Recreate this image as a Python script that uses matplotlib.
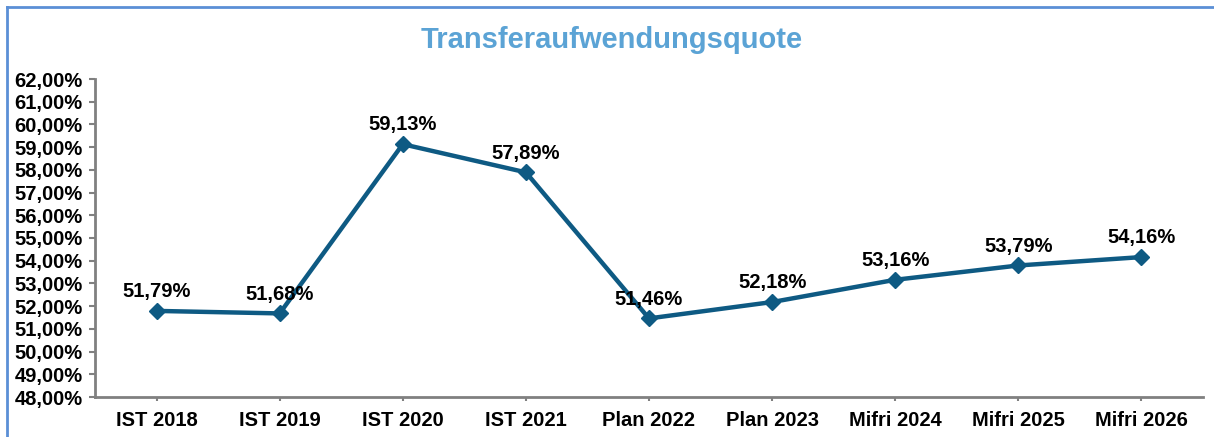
import matplotlib
matplotlib.use("Agg")
import matplotlib.pyplot as plt
from matplotlib.lines import Line2D
from matplotlib.ticker import FuncFormatter, MultipleLocator

categories = ["IST 2018", "IST 2019", "IST 2020", "IST 2021", "Plan 2022",
              "Plan 2023", "Mifri 2024", "Mifri 2025", "Mifri 2026"]
quote = [51.79, 51.68, 59.13, 57.89, 51.46, 52.18, 53.16, 53.79, 54.16]

plt.rcParams['font.family'] = ['Liberation Sans', 'DejaVu Sans']

fig = plt.figure(figsize=(12.14, 4.37), dpi=100)
ax = fig.add_axes([95 / 1214, 40 / 437, (1203 - 95) / 1214, (397 - 79) / 437])

x = list(range(len(categories)))
ax.plot(x, quote, color='#0E5A83', linewidth=3.2, marker='D', markersize=8.5,
        solid_joinstyle='round')

for xi, v in zip(x, quote):
    txt = f"{v:.2f}%".replace('.', ',')
    ax.annotate(txt, (xi, v), xytext=(0, 7), textcoords='offset points',
                ha='center', va='bottom', fontsize=14.5, fontweight='bold')

ax.set_xlim(-0.5, len(categories) - 0.5)
ax.set_ylim(48, 62)
ax.yaxis.set_major_locator(MultipleLocator(1))
ax.yaxis.set_major_formatter(FuncFormatter(lambda v, p: f"{v:.2f}%".replace('.', ',')))
ax.set_xticks(x)
ax.set_xticklabels(categories)

for lab in ax.get_xticklabels() + ax.get_yticklabels():
    lab.set_fontweight('bold')
    lab.set_fontsize(14.5)

ax.spines['top'].set_visible(False)
ax.spines['right'].set_visible(False)
for s in ['left', 'bottom']:
    ax.spines[s].set_color('#808080')
    ax.spines[s].set_linewidth(2)
ax.tick_params(axis='y', length=4, width=1.5, color='#808080', pad=5)
ax.tick_params(axis='x', length=3, width=1.5, color='#808080', pad=7)

fig.text(612 / 1214, 1 - 40 / 437, "Transferaufwendungsquote", ha='center', va='center',
         fontsize=21, fontweight='bold', color='#5BA3D5')

# blauer Rahmen (links und oben)
fig.add_artist(Line2D([7 / 1214, 7 / 1214], [0, 1 - 7 / 437], transform=fig.transFigure,
                      color='#5B8FD6', linewidth=2))
fig.add_artist(Line2D([7 / 1214, 1], [1 - 7 / 437, 1 - 7 / 437], transform=fig.transFigure,
                      color='#5B8FD6', linewidth=2))

fig.savefig("out.png", dpi=100)
